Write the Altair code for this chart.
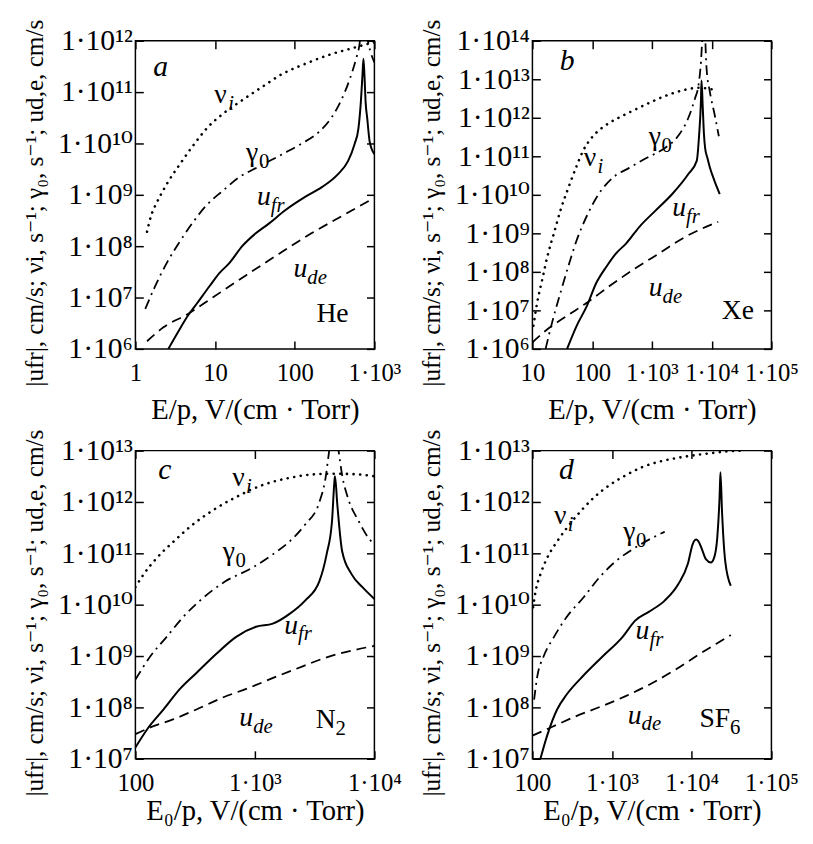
import altair as alt
import pandas as pd

FONT = "Liberation Serif, DejaVu Serif"

# ---------------- panel a : He ----------------
A_NU_X = [1.40, 1.58, 1.86, 2.45, 3.63, 5.25, 7.94, 12.6, 20.0, 38.9, 69.2, 135, 288, 513, 832, 1000]
A_NU_Y = [1.91e8, 3.98e8, 7.08e8, 1.58e9, 3.98e9, 8.91e9, 2.0e10, 3.8e10, 6.31e10, 1.26e11, 2.24e11, 3.55e11, 5.5e11, 7.08e11, 8.71e11, 9.33e11]
A_GA_X = [1.33, 1.77, 2.47, 3.61, 5.30, 7.74, 12.5, 20.0, 35.5, 75.9, 123, 200, 288, 385, 490, 589, 646, 724, 832, 891, 1000]
A_GA_Y = [6.03e6, 1.66e7, 4.68e7, 1.23e8, 2.95e8, 6.17e8, 1.2e9, 2.19e9, 3.55e9, 6.61e9, 1.0e10, 1.66e10, 3.16e10, 7.08e10, 1.78e11, 4.47e11, 7.94e11, 4e12, 9.55e11, 6.17e11, 3.8e11]
A_UF_X = [2.59, 3.61, 4.57, 5.82, 8.51, 11.4, 15.1, 21.9, 32.4, 47.3, 75.9, 135, 219, 347, 468, 562, 631, 676, 708, 728, 750, 776, 813, 871, 1000]
A_UF_Y = [1.0e6, 2.45e6, 4.47e6, 7.41e6, 1.66e7, 3.02e7, 4.68e7, 1.0e8, 1.78e8, 2.75e8, 5.01e8, 9.12e8, 1.41e9, 2.51e9, 4.57e9, 9.55e9, 2.0e10, 6.46e10, 2.14e11, 4.47e11, 2.14e11, 6.31e10, 3.09e10, 1.1e10, 6.17e9]
A_UD_X = [1.40, 2.25, 4.57, 9.33, 24.3, 63.1, 162, 427, 871]
A_UD_Y = [1.41e6, 2.63e6, 4.79e6, 1.0e7, 2.69e7, 7.08e7, 1.78e8, 4.17e8, 7.76e8]

# ---------------- panel b : Xe ----------------
B_NU_X = [10.4, 12.0, 14.6, 17.8, 22.9, 29.5, 40.3, 55.0, 70.8, 100, 141, 200, 398, 1000, 1905, 3630, 6026, 10000]
B_NU_Y = [3.98e6, 1.58e7, 6.31e7, 2.51e8, 1.0e9, 3.98e9, 1.58e10, 5.62e10, 1.41e11, 3.16e11, 5.25e11, 7.59e11, 1.32e12, 2.63e12, 3.98e12, 5.37e12, 6.03e12, 5.5e12]
B_GA_X = [16.6, 21.4, 29.5, 39.8, 55.0, 81.3, 126, 224, 417, 794, 1585, 2818, 4074, 5248, 6026, 6607, 6918, 7413, 8222, 9333, 11220, 13183]
B_GA_Y = [1.0e6, 4.9e6, 2.88e7, 1.38e8, 6.61e8, 2.82e9, 1.0e10, 2.82e10, 5.01e10, 8.91e10, 1.58e11, 3.55e11, 1.0e12, 3.16e12, 7.08e12, 2.75e13, 9.12e13, 4e14, 1.86e13, 4.68e12, 1.2e12, 3.31e11]
B_UF_X = [38.0, 55.0, 81.3, 117, 174, 251, 372, 617, 1148, 2188, 4074, 5623, 6166, 6607, 6761, 7079, 7413, 7762, 8511, 9333, 11220, 13646]
B_UF_Y = [1.0e6, 3.98e6, 1.29e7, 5.13e7, 1.38e8, 3.02e8, 5.5e8, 1.48e9, 3.89e9, 1.05e10, 3.47e10, 7.59e10, 3.63e11, 2.63e12, 9.33e12, 2.0e12, 3.98e11, 1.66e11, 8.91e10, 5.13e10, 2.24e10, 1.05e10]
B_UD_X = [10, 17.8, 38.0, 81.3, 195, 479, 1318, 3631, 12882]
B_UD_Y = [1.48e6, 3.24e6, 7.24e6, 1.58e7, 4.27e7, 1.12e8, 3.02e8, 8.13e8, 2.0e9]

# ---------------- panel c : N2 ----------------
C_NU_X = [100, 117, 151, 209, 302, 447, 661, 1161, 1950, 3236, 4677, 6918, 10000]
C_NU_Y = [2.19e10, 3.89e10, 8.13e10, 1.7e11, 3.63e11, 6.92e11, 1.17e12, 2.14e12, 2.95e12, 3.47e12, 3.55e12, 3.47e12, 3.16e12]
C_GA_X = [100, 133, 182, 251, 347, 562, 955, 1413, 1950, 2630, 3467, 3890, 4169, 4571, 5012, 5370, 6026, 7413, 8913, 10000]
C_GA_Y = [3.47e8, 9.77e8, 2.34e9, 5.75e9, 1.2e10, 2.82e10, 5.25e10, 9.55e10, 1.7e11, 3.63e11, 1.0e12, 2.82e12, 9.33e12, 4e13, 1.0e13, 3.31e12, 1.17e12, 4.17e11, 2.0e11, 1.48e11]
C_UF_X = [100, 126, 172, 234, 324, 479, 692, 1023, 1413, 1950, 2630, 3467, 3981, 4416, 4624, 4677, 4898, 5370, 6457, 7943, 10000]
C_UF_Y = [1.66e7, 3.8e7, 9.12e7, 2.24e8, 4.68e8, 1.12e9, 2.34e9, 3.72e9, 4.27e9, 6.61e9, 1.2e10, 2.88e10, 9.55e10, 4.17e11, 2.45e12, 3.16e12, 8.71e11, 1.1e11, 3.89e10, 2.19e10, 1.29e10]
C_UD_X = [100, 133, 209, 324, 537, 891, 1514, 2512, 4169, 6918, 10000]
C_UD_Y = [3.02e7, 4.07e7, 5.89e7, 9.12e7, 1.55e8, 2.4e8, 3.98e8, 6.31e8, 9.77e8, 1.32e9, 1.58e9]

# ---------------- panel d : SF6 ----------------
D_NU_X = [102, 110, 126, 153, 204, 269, 398, 575, 933, 1479, 2399, 3802, 6166, 9772, 17378, 30903, 44668]
D_NU_Y = [8.91e9, 1.86e10, 3.89e10, 8.13e10, 1.7e11, 3.09e11, 6.46e11, 1.17e12, 2.14e12, 3.31e12, 4.79e12, 6.03e12, 7.08e12, 7.94e12, 8.91e12, 9.77e12, 1.0e13]
D_GA_X = [105, 115, 138, 186, 269, 437, 692, 1122, 1950, 3802, 4571]
D_GA_Y = [1.41e8, 3.98e8, 9.77e8, 2.34e9, 5.75e9, 1.38e10, 3.39e10, 7.08e10, 1.29e11, 2.29e11, 2.63e11]
D_UF_X = [126, 153, 204, 269, 437, 759, 1349, 1950, 2884, 4571, 6761, 8913, 10233, 10715, 11350, 12023, 13183, 15136, 17378, 19055, 20893, 22387, 22909, 23988, 26303, 30903]
D_UF_Y = [1.0e7, 2.82e7, 9.12e7, 1.78e8, 4.17e8, 9.77e8, 2.34e9, 4.9e9, 7.24e9, 1.2e10, 2.51e10, 6.17e10, 1.48e11, 1.74e11, 1.86e11, 1.74e11, 1.29e11, 7.59e10, 6.61e10, 8.13e10, 2.0e11, 1.35e12, 3.8e12, 6.46e11, 7.08e10, 2.34e10]
D_UD_X = [100, 170, 355, 759, 1479, 3162, 6166, 12023, 20893, 30903]
D_UD_Y = [2.82e7, 4.07e7, 6.76e7, 1.07e8, 1.66e8, 2.95e8, 5.37e8, 1.05e9, 1.78e9, 2.57e9]

# axis decades (exponents) per panel
A_XEXP, A_YEXP = (0, 3), (6, 12)
B_XEXP, B_YEXP = (1, 5), (6, 14)
C_XEXP, C_YEXP = (2, 4), (7, 13)
D_XEXP, D_YEXP = (2, 5), (7, 13)

# annotations: (x, y, main text, main italic, subscript, sub italic)
A_LAB = [(1.67, 3.0e11, "a", True, "", False), (9.8, 8.7e10, "ν", False, "i", True),
         (24.5, 6.5e9, "γ", False, "0", False), (33.6, 9.1e8, "u", True, "fr", True),
         (96.6, 3.6e7, "u", True, "de", True), (187, 4.7e6, "He", False, "", False)]
B_LAB = [(28.8, 2.9e13, "b", True, "", False), (72, 8.9e10, "ν", False, "i", True),
         (885, 3.2e11, "γ", False, "0", False), (2190, 4.4e9, "u", True, "fr", True),
         (885, 3.8e7, "u", True, "de", True), (14800, 9.3e6, "Xe", False, "", False)]
C_LAB = [(155, 4.1e12, "c", True, "", False), (646, 2.9e12, "ν", False, "i", True),
         (537, 1.07e11, "γ", False, "0", False), (1758, 3.9e9, "u", True, "fr", True),
         (741, 6.3e7, "u", True, "de", True), (3236, 5.75e7, "N", False, "2", False)]
D_LAB = [(215, 4.1e12, "d", True, "", False), (186, 5.4e11, "ν", False, "i", True),
         (1380, 2.6e11, "γ", False, "0", False), (1972, 3.1e9, "u", True, "fr", True),
         (1570, 6.9e7, "u", True, "de", True), (12470, 6.0e7, "SF", False, "6", False)]

YTITLE = "|ufr|, cm/s; νi, s⁻¹; γ₀, s⁻¹; ud,e, cm/s"
XTITLE_1 = "E/p, V/(cm · Torr)"
XTITLE_2 = "E₀/p, V/(cm · Torr)"

SUP = str.maketrans("0123456789", "⁰¹²³⁴⁵⁶⁷⁸⁹")


def tick_text(n):
    return {0: "1", 1: "10", 2: "100"}.get(n, "1·10" + str(n).translate(SUP))


def label_expr(exps):
    e = "round(log(datum.value)/LN10)"
    return " : ".join(f"{e} == {n} ? '{tick_text(n)}'" for n in exps) + " : ''"


STYLE = {
    "nu": dict(strokeDash=[0.1, 6.6], strokeWidth=2.6, strokeCap="round", interpolate="monotone"),
    "ga": dict(strokeDash=[10, 5, 2, 5], strokeWidth=1.8, interpolate="monotone"),
    "uf": dict(strokeWidth=2, interpolate="monotone"),
    "ud": dict(strokeDash=[10, 6], strokeWidth=1.8, interpolate="monotone"),
}

SUB_DX = {"ν": 14, "γ": 13, "u": 14, "N": 20, "SF": 31}


def panel(series, labels, xexp, yexp, xtitle, title_y, w, h):
    xe = list(range(xexp[0], xexp[1] + 1))
    ye = list(range(yexp[0], yexp[1] + 1))
    xvals = [10.0 ** n for n in xe]
    yvals = [10.0 ** n for n in ye]
    xsc = alt.Scale(type="log", domain=[xvals[0], xvals[-1]], nice=False)
    ysc = alt.Scale(type="log", domain=[yvals[0], yvals[-1]], nice=False)
    xax = alt.Axis(orient="bottom", values=xvals, labelExpr=label_expr(xe), offset=-8,
                   tickSize=8, domain=False, grid=False, labelFlush=False,
                   labelOverlap=False, labelPadding=12, labelFontSize=25,
                   title=xtitle, titleFontSize=29, titleY=title_y, titleBaseline="middle")
    yax = alt.Axis(orient="left", values=yvals, labelExpr=label_expr(ye), offset=-8,
                   tickSize=8, domain=False, grid=False, labelOverlap=False,
                   labelPadding=3, labelFontSize=30, title=YTITLE, titleFontSize=25.5,
                   titleX=-110, titleY=164, titleBaseline="middle", titleAngle=270,
                   titleAlign="center")
    X = alt.X("x:Q", scale=xsc, axis=xax)
    Y = alt.Y("y:Q", scale=ysc, axis=yax)
    layers = []
    for key, xs, ys in series:
        df = pd.DataFrame({"x": xs, "y": ys, "i": list(range(len(xs)))})
        layers.append(alt.Chart(df).mark_line(clip=True, color="black", **STYLE[key])
                      .encode(x=X, y=Y, order="i:Q"))
    for (lx, ly, main, mital, sub, sital) in labels:
        df = pd.DataFrame({"x": [lx], "y": [ly], "t": [main]})
        is_letter = main in ("a", "b", "c", "d")
        layers.append(alt.Chart(df).mark_text(
            align="left", baseline="middle", font=FONT,
            fontSize=30 if is_letter else 28,
            fontStyle="italic" if mital else "normal", color="black")
            .encode(x=X, y=Y, text="t:N"))
        if sub:
            dfs = pd.DataFrame({"x": [lx], "y": [ly], "t": [sub]})
            layers.append(alt.Chart(dfs).mark_text(
                align="left", baseline="middle", font=FONT, fontSize=21,
                dx=SUB_DX[main], dy=9,
                fontStyle="italic" if sital else "normal", color="black")
                .encode(x=X, y=Y, text="t:N"))
    main_layer = alt.layer(*layers)
    xtop = alt.Axis(orient="top", values=xvals, labels=False, offset=-8, tickSize=8,
                    domain=False, grid=False, title=None)
    yright = alt.Axis(orient="right", values=yvals, labels=False, offset=-8, tickSize=8,
                      domain=False, grid=False, title=None)
    mdf = pd.DataFrame({"x": series[3][1], "y": series[3][2]})
    mirror = alt.Chart(mdf).mark_line(strokeOpacity=0).encode(
        x=alt.X("x:Q", scale=xsc, axis=xtop),
        y=alt.Y("y:Q", scale=ysc, axis=yright))
    return alt.layer(main_layer, mirror).resolve_scale(
        x="independent", y="independent").properties(width=w, height=h)


pa = panel([("nu", A_NU_X, A_NU_Y), ("ga", A_GA_X, A_GA_Y), ("uf", A_UF_X, A_UF_Y),
            ("ud", A_UD_X, A_UD_Y)], A_LAB, A_XEXP, A_YEXP, XTITLE_1, 69, 242, 312)
pb = panel([("nu", B_NU_X, B_NU_Y), ("ga", B_GA_X, B_GA_Y), ("uf", B_UF_X, B_UF_Y),
            ("ud", B_UD_X, B_UD_Y)], B_LAB, B_XEXP, B_YEXP, XTITLE_1, 69, 242, 312)
pc = panel([("nu", C_NU_X, C_NU_Y), ("ga", C_GA_X, C_GA_Y), ("uf", C_UF_X, C_UF_Y),
            ("ud", C_UD_X, C_UD_Y)], C_LAB, C_XEXP, C_YEXP, XTITLE_2, 61, 242, 312)
pd_ = panel([("nu", D_NU_X, D_NU_Y), ("ga", D_GA_X, D_GA_Y), ("uf", D_UF_X, D_UF_Y),
             ("ud", D_UD_X, D_UD_Y)], D_LAB, D_XEXP, D_YEXP, XTITLE_2, 61, 242, 312)

chart = alt.concat(pa, pb, pc, pd_, columns=2, spacing={"row": 103, "column": 160},
                   bounds="flush").configure(font=FONT).configure_view(
    stroke="black", strokeWidth=1.5).configure_axis(
    labelFont=FONT, titleFont=FONT,
    labelColor="black", titleColor="black", tickColor="black", tickWidth=1.5,
    titleFontWeight="normal").properties(
    padding={"left": 14, "top": 5, "right": 5, "bottom": 0})

chart.save("out.html", embed_options={"renderer": "svg", "actions": False})
